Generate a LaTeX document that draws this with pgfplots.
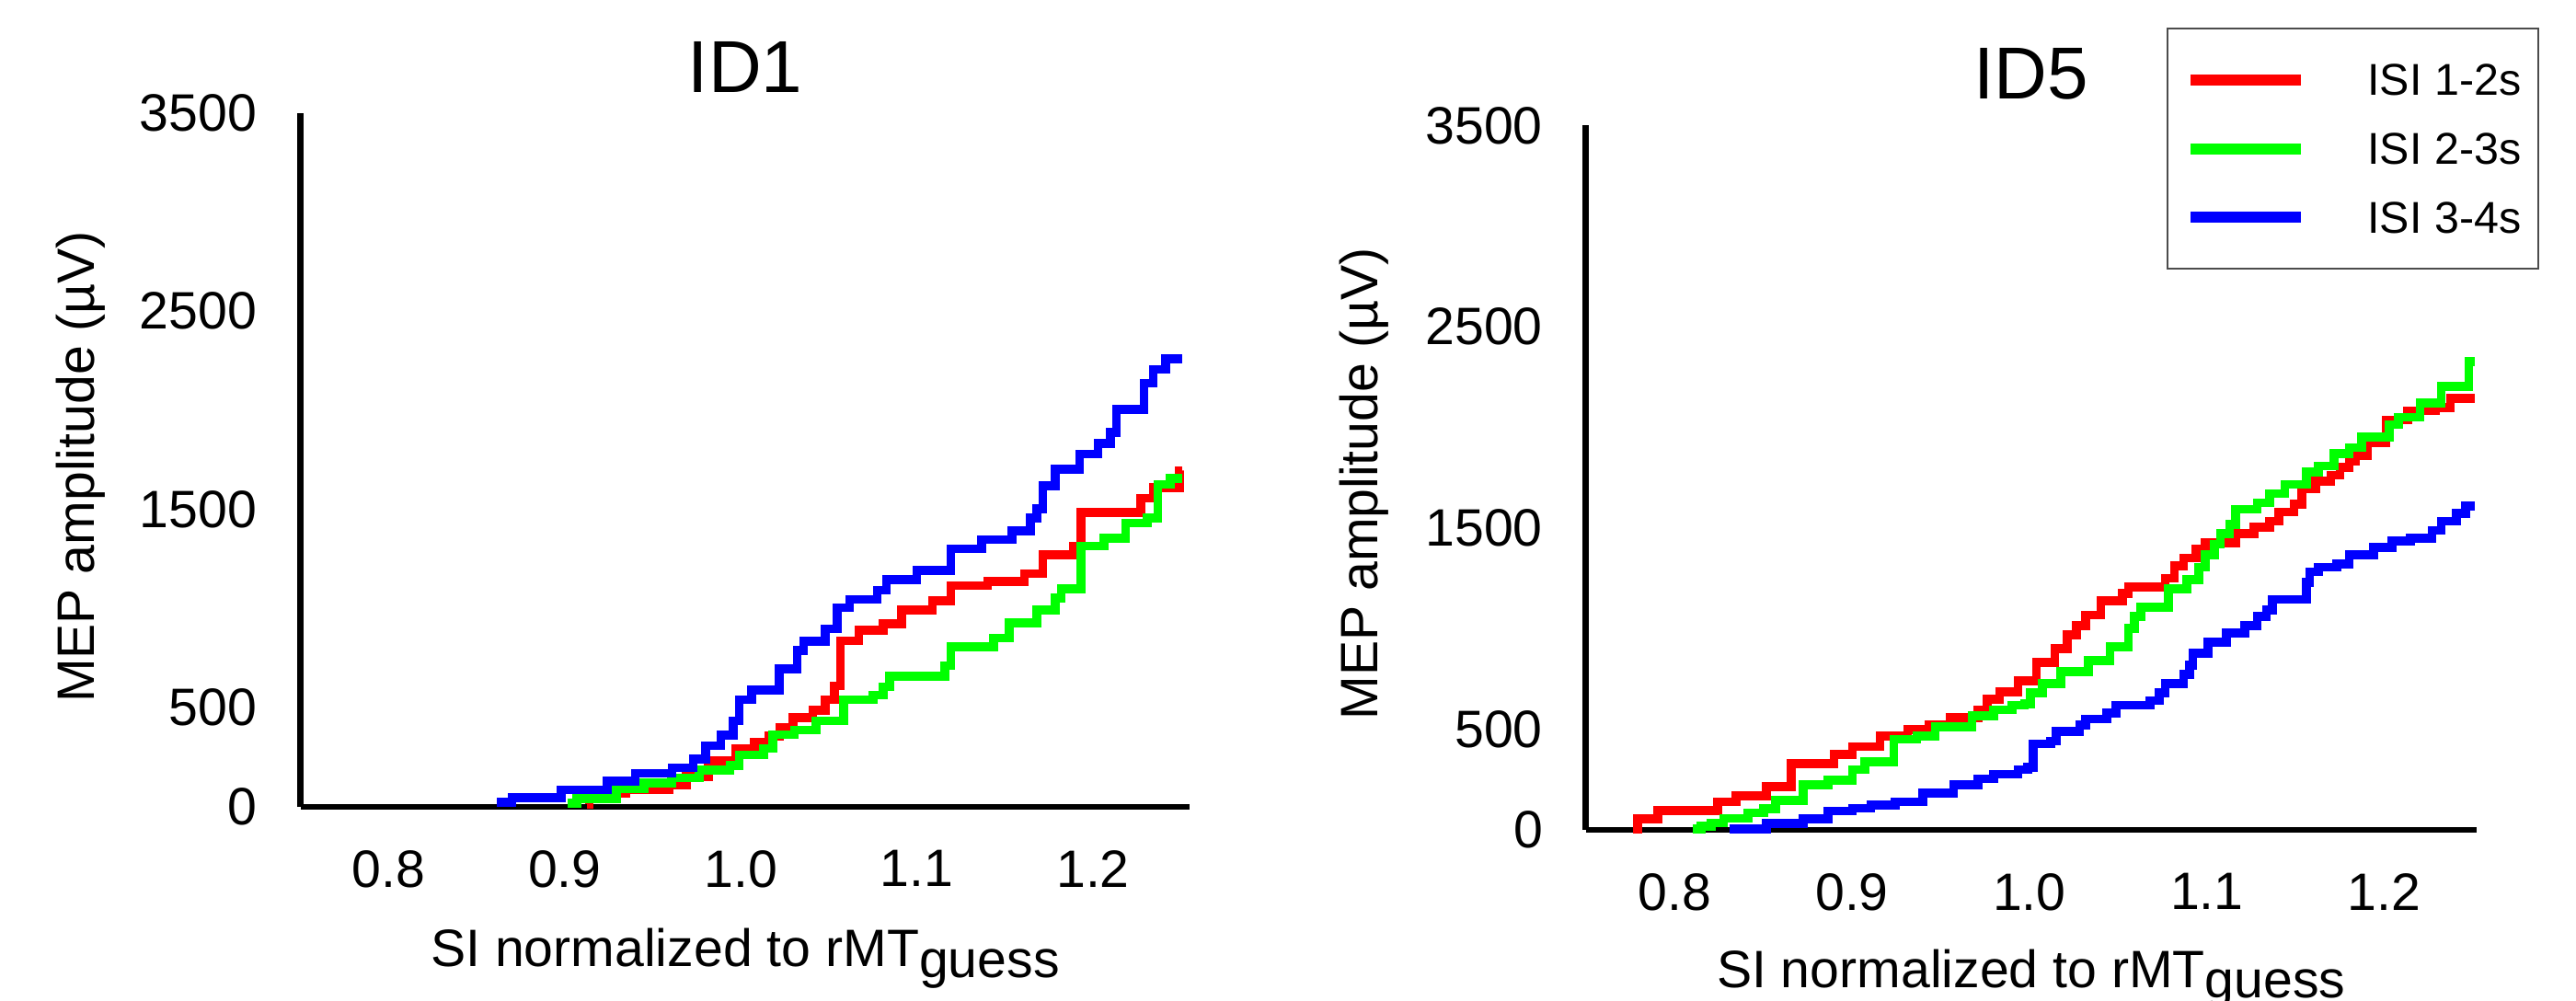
\documentclass[border=0pt]{standalone}
\usepackage{fontspec}
\setmainfont{Liberation Sans}
\usepackage{pgfplots}
\pgfplotsset{compat=1.18}

\definecolor{cRed}{RGB}{255,0,0}
\definecolor{cGreen}{RGB}{0,255,0}
\definecolor{cBlue}{RGB}{0,0,255}

\newcommand\tickfont{\fontsize{14.3bp}{16bp}\selectfont}
\newcommand\titlefont{\fontsize{20bp}{24bp}\selectfont}
\newcommand\legfont{\fontsize{12.1bp}{14bp}\selectfont}

\pgfplotsset{
  mep/.style={
    scale only axis,
    xmin=0.75, ymin=0, ymax=3500,
    axis x line*=bottom, axis y line*=left,
    axis line style={-, line width=1.7bp, black},
    x axis line style={-}, y axis line style={-},
    major tick length=0pt,
    xtick={0.8,0.9,1.0,1.1,1.2},
    xticklabels={0.8,0.9,1.0,1.1,1.2},
    ytick={0,500,1500,2500,3500},
    yticklabels={0,500,1500,2500,3500},
    tick label style={font=\tickfont, inner sep=0pt},
    xticklabel style={anchor=north},
    yticklabel style={anchor=east},
    xticklabel shift=11.6bp,
    clip=false,
    xlabel={SI normalized to rMT\raisebox{-2.9bp}{guess}},
    ylabel={MEP amplitude (µV)},
    label style={font=\tickfont, inner sep=0pt},
    title style={font=\titlefont, inner sep=0pt, anchor=base},
    every axis plot/.append style={const plot mark left, line width=2.4bp, mark=none, line join=miter},
  },
}

\begin{document}
\begin{tikzpicture}
\useasboundingbox (0,0) rectangle (700bp,272bp);

% ---- ID1 ----
\begin{axis}[mep,
  at={(81.7bp,52.75bp)}, anchor=south west,
  width=241.6bp, height=188.6bp, xmax=1.255,
  yticklabel shift=11.7bp,
  title={ID1}, title style={at={(axis description cs:0.5,0.997)}},
  xlabel style={at={(axis description cs:0.5,-0.2306)}, anchor=base},
  ylabel style={at={(axis description cs:-0.2318,0.49)}, anchor=base},
]
\addplot[cRed] coordinates {
  (0.9128,15) (0.914,39) (0.9277,70) (0.9346,85) (0.959,110) (0.969,154)
  (0.9817,232) (0.9973,294) (1.0078,325) (1.016,356) (1.022,400) (1.0296,449)
  (1.0409,487) (1.0479,541) (1.0531,611) (1.0565,837) (1.067,891) (1.081,922)
  (1.0914,992) (1.1088,1038) (1.1193,1115) (1.1402,1138) (1.1611,1177)
  (1.1715,1270) (1.189,1316) (1.1933,1486) (1.2273,1556) (1.2342,1610)
  (1.2491,1695) (1.2508,1695)
};
\addplot[cGreen] coordinates {
  (0.9015,19) (0.9068,43) (0.9294,93) (0.9451,121) (0.9607,147) (0.9764,186)
  (0.9938,209) (0.999,263) (1.013,294) (1.0182,364) (1.0304,387) (1.0426,433)
  (1.0583,541) (1.075,563) (1.081,605) (1.0845,659) (1.1158,713) (1.1193,806)
  (1.1437,852) (1.1524,929) (1.168,992) (1.1785,1053) (1.182,1100)
  (1.1933,1316) (1.2064,1355) (1.2186,1432) (1.2308,1456) (1.2368,1626)
  (1.244,1657) (1.2508,1657)
};
\addplot[cBlue] coordinates {
  (0.8615,23) (0.870,46) (0.898,85) (0.924,131) (0.940,170) (0.961,198)
  (0.973,240) (0.980,309) (0.9886,363) (0.9956,433) (0.999,541) (1.006,588)
  (1.0217,696) (1.032,789) (1.0357,835) (1.048,897) (1.0548,1005) (1.0618,1046)
  (1.0775,1092) (1.0827,1146) (1.100,1193) (1.1193,1301) (1.1367,1347)
  (1.1541,1393) (1.1646,1456) (1.168,1502) (1.1715,1618) (1.1785,1703)
  (1.1924,1780) (1.2029,1834) (1.2099,1889) (1.2133,2005) (1.229,2136)
  (1.2342,2206) (1.2412,2260) (1.2508,2260)
};
\end{axis}

% ---- ID5 ----
\begin{axis}[mep,
  at={(430.9bp,46.5bp)}, anchor=south west,
  width=242.1bp, height=191.4bp, xmax=1.252,
  yticklabel shift=11.5bp,
  title={ID5}, title style={at={(axis description cs:0.5,1.006)}},
  xlabel style={at={(axis description cs:0.5,-0.2234)}, anchor=base},
  ylabel style={at={(axis description cs:-0.233,0.491)}, anchor=base},
  legend style={at={(axis description cs:0.652,1.139)}, anchor=north west,
    draw=black!70, line width=0.55bp, fill=white,
    inner xsep=4.75bp, inner ysep=9.7bp, row sep=10.25bp, column sep=0pt,
    font=\legfont, nodes={inner sep=0pt, text depth=0pt}},
  legend cell align=left,
  legend image code/.code={
    \draw[#1, line width=3bp, line cap=butt] (0bp,0bp) -- (30bp,0bp);
    \path[draw=none, fill=none] (30bp,0bp) -- (48.1bp,0bp);},
]
\addplot[cRed] coordinates {
  (0.7767,5) (0.7793,55) (0.7906,96) (0.8243,139) (0.8346,169) (0.8519,215)
  (0.8657,329) (0.8899,375) (0.9003,413) (0.9158,466) (0.9314,497) (0.9435,520)
  (0.9556,558) (0.9711,596) (0.9763,649) (0.9832,687) (0.9936,741) (1.0039,832)
  (1.0143,901) (1.0212,969) (1.0264,1015) (1.0316,1068) (1.0402,1137)
  (1.0524,1175) (1.0558,1206) (1.0765,1251) (1.0817,1312) (1.0869,1350)
  (1.0938,1396) (1.099,1427) (1.1163,1472) (1.1266,1503) (1.1353,1533)
  (1.1405,1579) (1.1491,1617) (1.1534,1693) (1.1612,1732) (1.1698,1762)
  (1.175,1800) (1.1802,1830) (1.1837,1861) (1.1906,1922) (1.2009,2036)
  (1.2131,2082) (1.2286,2097) (1.2372,2143) (1.2511,2143)
};
\addlegendentry{ISI 1-2s}
\addplot[cGreen] coordinates {
  (0.8104,5) (0.8150,17) (0.8208,35) (0.8277,58) (0.8415,85) (0.8502,104)
  (0.8571,146) (0.8726,223) (0.8865,246) (0.9003,299) (0.9072,337) (0.9236,451)
  (0.9366,466) (0.9469,512) (0.9677,566) (0.9798,596) (0.9901,619) (0.9971,626)
  (1.0005,680) (1.0074,726) (1.0178,786) (1.0333,840) (1.0454,909) (1.0558,1000)
  (1.0593,1061) (1.0627,1107) (1.0783,1198) (1.0886,1244) (1.0955,1305)
  (1.099,1366) (1.1042,1419) (1.1076,1472) (1.1128,1518) (1.1163,1594)
  (1.1284,1625) (1.1353,1670) (1.1439,1716) (1.156,1777) (1.1629,1808)
  (1.1716,1869) (1.1802,1899) (1.1871,1952) (1.2027,2013) (1.2079,2051)
  (1.2200,2120) (1.2321,2204) (1.2476,2326) (1.2511,2326)
};
\addlegendentry{ISI 2-3s}
\addplot[cBlue] coordinates {
  (0.8311,5) (0.8519,32) (0.8726,55) (0.8865,93) (0.9003,108) (0.9106,123)
  (0.9245,139) (0.9400,184) (0.9573,223) (0.9711,253) (0.9798,276) (0.9936,299)
  (0.999,310) (1.002,427) (1.012,441) (1.0152,489) (1.0282,520) (1.0316,550)
  (1.0437,581) (1.0489,619) (1.0679,642) (1.0731,680) (1.0766,726) (1.0869,772)
  (1.0904,817) (1.092,878) (1.1007,932) (1.1111,978) (1.1215,1016) (1.1284,1061)
  (1.1336,1092) (1.137,1145) (1.156,1229) (1.1578,1282) (1.1629,1305)
  (1.1733,1320) (1.1802,1366) (1.194,1404) (1.2044,1435) (1.2148,1450)
  (1.2269,1488) (1.2321,1534) (1.2407,1572) (1.2459,1610) (1.2511,1610)
};
\addlegendentry{ISI 3-4s}
\end{axis}
\end{tikzpicture}
\end{document}
